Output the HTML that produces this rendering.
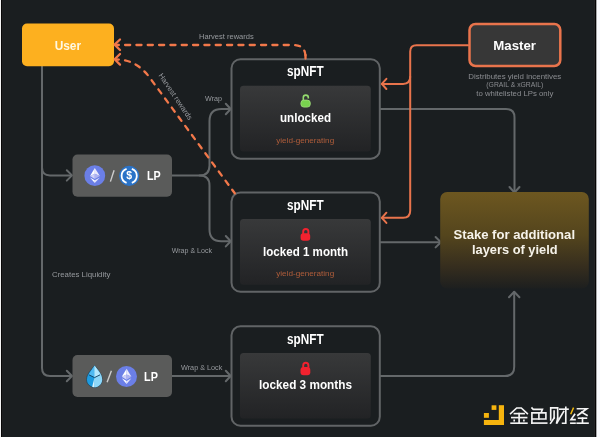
<!DOCTYPE html>
<html><head><meta charset="utf-8">
<style>
html,body{margin:0;padding:0;background:#1a1e20;}
body{width:600px;height:437px;overflow:hidden;position:relative;font-family:"Liberation Sans",sans-serif;}
svg{position:absolute;left:0;top:0;display:block;will-change:transform;}
text{font-family:"Liberation Sans",sans-serif;}
</style></head><body>
<svg width="600" height="437" viewBox="0 0 600 437">
<defs>
 <linearGradient id="inner" x1="0" y1="0" x2="0" y2="1">
   <stop offset="0" stop-color="#38393a"/>
   <stop offset="1" stop-color="#222325"/>
 </linearGradient>
 <linearGradient id="stake" x1="0" y1="0" x2="0" y2="1">
   <stop offset="0" stop-color="#6d5720"/>
   <stop offset="0.45" stop-color="#54451d"/>
   <stop offset="0.78" stop-color="#352d1e"/>
   <stop offset="1" stop-color="#1d1f1f"/>
 </linearGradient>
</defs>
<rect width="600" height="437" fill="#1a1e20"/>

<!-- gray connector lines -->
<g fill="none" stroke="#64686a" stroke-width="2" stroke-linecap="round" stroke-linejoin="round">
  <!-- user trunk -->
  <path d="M42,66 V368 Q42,376 50,376 H71"/>
  <path d="M42,167.5 Q42,175.4 50,175.4 H71"/>
  <path d="M66.8,170.2 L72,175.4 L66.8,180.6"/>
  <path d="M66.8,370.8 L72,376 L66.8,381.2"/>
  <!-- LP1 split -->
  <path d="M172,175.5 H199.5 Q209.5,175.5 209.5,165.5 V121 Q209.5,109 221.5,109 H230"/>
  <path d="M199.5,175.5 Q209.5,175.5 209.5,185.5 V229.5 Q209.5,241.2 221.2,241.2 H230"/>
  <path d="M225.8,103.8 L230.7,109 L225.8,114.2"/>
  <path d="M225.8,236 L230.7,241.2 L225.8,246.4"/>
  <!-- LP2 to spNFT3 -->
  <path d="M172,376 H230"/>
  <path d="M225.8,370.8 L230.7,376 L225.8,381.2"/>
  <!-- spNFT1 -> stake top -->
  <path d="M380,109 H506 Q514.5,109 514.5,117.5 V192"/>
  <path d="M509.5,187 L514.5,192.5 L519.5,187"/>
  <!-- spNFT2 -> stake left -->
  <path d="M380,242.2 H440.5"/>
  <path d="M435.6,237 L440.9,242.2 L435.6,247.4"/>
  <!-- spNFT3 -> stake bottom -->
  <path d="M380,376 H505 Q514.2,376 514.2,366.8 V292"/>
  <path d="M509,297.2 L514.2,291.7 L519.4,297.2"/>
</g>

<!-- Boxes -->
<rect x="22" y="23.5" width="92" height="42.8" rx="5" fill="#fdb01f"/>
<text x="67.9" y="49.6" font-size="13" font-weight="bold" fill="#fff8e2" text-anchor="middle" textLength="26.5" lengthAdjust="spacingAndGlyphs">User</text>

<rect x="469.5" y="24" width="90.8" height="42" rx="6" fill="#373737" stroke="#e9744c" stroke-width="2.5"/>
<text x="514.6" y="50" font-size="13" font-weight="bold" fill="#fff" text-anchor="middle" textLength="42.7" lengthAdjust="spacingAndGlyphs">Master</text>
<g font-size="7.8" fill="#8b8d91" text-anchor="middle">
  <text x="514.8" y="79.2" textLength="93" lengthAdjust="spacingAndGlyphs">Distributes yield incentives</text>
  <text x="514.8" y="87.4" textLength="57" lengthAdjust="spacingAndGlyphs">(GRAIL &amp; xGRAIL)</text>
  <text x="514.8" y="95.5" textLength="77" lengthAdjust="spacingAndGlyphs">to whitelisted LPs only</text>
</g>

<!-- spNFT boxes -->
<g fill="none" stroke="#616466" stroke-width="2">
  <rect x="231.5" y="59.2" width="148.3" height="99.5" rx="9"/>
  <rect x="231.5" y="192.4" width="148.3" height="99.4" rx="9"/>
  <rect x="231.5" y="326.3" width="148.3" height="99.5" rx="9"/>
</g>
<g fill="url(#inner)">
  <rect x="240" y="85.8" width="130.8" height="65.7" rx="3.5"/>
  <rect x="240" y="219" width="130.8" height="65.7" rx="3.5"/>
  <rect x="240" y="352.9" width="130.8" height="65.7" rx="3.5"/>
</g>
<g font-size="13" font-weight="bold" fill="#fff" text-anchor="middle">
  <text x="305.3" y="76.1" font-size="13.8" textLength="36.5" lengthAdjust="spacingAndGlyphs">spNFT</text>
  <text x="305.3" y="209.9" font-size="13.8" textLength="36.5" lengthAdjust="spacingAndGlyphs">spNFT</text>
  <text x="305.3" y="344" font-size="13.8" textLength="36.5" lengthAdjust="spacingAndGlyphs">spNFT</text>
  <text x="305.5" y="122.1" textLength="51" lengthAdjust="spacingAndGlyphs">unlocked</text>
  <text x="305.5" y="255.5" textLength="85" lengthAdjust="spacingAndGlyphs">locked 1 month</text>
  <text x="305.5" y="389.4" textLength="93" lengthAdjust="spacingAndGlyphs">locked 3 months</text>
</g>
<g font-size="7.6" fill="#b05d3a" text-anchor="middle">
  <text x="305.2" y="143.2" textLength="58" lengthAdjust="spacingAndGlyphs">yield-generating</text>
  <text x="305.2" y="276" textLength="58" lengthAdjust="spacingAndGlyphs">yield-generating</text>
</g>

<!-- locks -->
<g>
  <path d="M303.3,100.5 V97.6 A2.5,2.5 0 0 1 308.3,97.6 V98.4" fill="none" stroke="#94db6e" stroke-width="1.6"/>
  <rect x="300.9" y="100.1" width="9.4" height="7" rx="3" fill="#78d24e" stroke="#a2e07e" stroke-width="0.8"/>
  <path d="M303.2,234 V231.6 A2.6,2.6 0 0 1 308.4,231.6 V234" fill="none" stroke="#f2222f" stroke-width="1.9"/>
  <rect x="300.6" y="233.2" width="9.6" height="7.6" rx="2.8" fill="#f2222f"/>
  <path d="M303.2,367.8 V365.4 A2.6,2.6 0 0 1 308.4,365.4 V367.8" fill="none" stroke="#f2222f" stroke-width="1.9"/>
  <rect x="300.5" y="367" width="9.8" height="8.2" rx="3" fill="#f2222f"/>
</g>

<!-- LP boxes -->
<rect x="72.5" y="154.5" width="99.5" height="42.2" rx="5" fill="#5a5b5a"/>
<rect x="72.5" y="355" width="99.5" height="42" rx="5" fill="#5a5b5a"/>

<!-- LP1 icons -->
<circle cx="94.8" cy="175.7" r="10.4" fill="#6b7fe7"/>
<path d="M94.8,168.1 L90,176 L94.8,173.8 Z" fill="#ffffff"/>
<path d="M94.8,168.1 L99.9,176 L94.8,173.8 Z" fill="#e9e9fc"/>
<path d="M90,176 L94.8,173.8 L94.8,179 Z" fill="#cfd1f7"/>
<path d="M99.9,176 L94.8,173.8 L94.8,179 Z" fill="#aeb3f1"/>
<path d="M90,177.4 L94.8,180.3 L94.8,183 Z" fill="#ffffff"/>
<path d="M99.9,177.4 L94.8,180.3 L94.8,183 Z" fill="#e3e5fb"/>
<path d="M114.1,170.3 L110.4,181.6" stroke="#cdcdcd" stroke-width="1.4"/>
<circle cx="129.2" cy="175.8" r="10.1" fill="#2a73c8"/>
<path d="M126.6,168.8 A7.4,7.4 0 0 0 126.6,182.8 M131.8,168.8 A7.4,7.4 0 0 1 131.8,182.8" fill="none" stroke="#fff" stroke-width="1.8"/>
<text x="129.2" y="179.4" font-size="10.5" font-weight="bold" fill="#fff" text-anchor="middle">$</text>
<text x="147" y="180.4" font-size="13" font-weight="bold" fill="#fff" textLength="13.7" lengthAdjust="spacingAndGlyphs">LP</text>

<!-- LP2 icons -->
<path d="M94.5,365.5 C98,370 102.2,374.5 102.2,379.5 C102.2,384 98.6,387.3 94.4,387.3 C90.2,387.3 86.5,384 86.5,379.5 C86.5,374.5 91,370 94.5,365.5 Z" fill="#1d9be0" stroke="#203644" stroke-width="0.6"/>
<path d="M94.5,365.5 C98,370 102.2,374.5 102.2,379.5 C102.2,384 98.6,387.3 94.4,387.3 L94.5,377.4 Z" fill="#8ed7f8"/>
<path d="M94.5,377.4 L94.4,387.3 C93,387.3 92.5,387 92.2,386.8 Z" fill="#d8f3fd"/>
<path d="M94.5,365.5 L88.7,374.6 L94.5,377.4 Z" fill="#4fb9f1"/>
<path d="M94.5,365.5 L100.3,374.6 L94.5,377.4 Z" fill="#b5e7fc"/>
<path d="M88.9,374.8 L94.5,377.6 L100.1,374.8" fill="none" stroke="#0e3c5c" stroke-width="0.9"/>
<path d="M111.4,370.8 L107.1,382.2" stroke="#cdcdcd" stroke-width="1.4"/>
<circle cx="126.5" cy="376.5" r="10.5" fill="#6b7fe7"/>
<path d="M126.6,368.8 L121.8,376.8 L126.6,374.6 Z" fill="#ffffff"/>
<path d="M126.6,368.8 L131.4,376.8 L126.6,374.6 Z" fill="#e9e9fc"/>
<path d="M121.8,376.8 L126.6,374.6 L126.6,379.8 Z" fill="#cfd1f7"/>
<path d="M131.4,376.8 L126.6,374.6 L126.6,379.8 Z" fill="#aeb3f1"/>
<path d="M121.8,378.2 L126.6,381.1 L126.6,383.9 Z" fill="#ffffff"/>
<path d="M131.4,378.2 L126.6,381.1 L126.6,383.9 Z" fill="#e3e5fb"/>
<text x="144.1" y="380.6" font-size="13" font-weight="bold" fill="#fff" textLength="13.8" lengthAdjust="spacingAndGlyphs">LP</text>

<!-- stake box -->
<rect x="440.2" y="192" width="148.6" height="96.5" rx="7" fill="url(#stake)"/>
<g font-size="12.6" font-weight="bold" fill="#f6f3ea" text-anchor="middle">
  <text x="514.3" y="238.8" textLength="121.5" lengthAdjust="spacingAndGlyphs">Stake for additional</text>
  <text x="514.8" y="253.8" textLength="85.5" lengthAdjust="spacingAndGlyphs">layers of yield</text>
</g>

<!-- labels -->
<g font-size="7.5" fill="#979a9e">
  <text x="199" y="39" textLength="54.7" lengthAdjust="spacingAndGlyphs">Harvest rewards</text>
  <text x="205" y="101.3" textLength="17" lengthAdjust="spacingAndGlyphs">Wrap</text>
  <text x="171.7" y="253.4" textLength="40.3" lengthAdjust="spacingAndGlyphs">Wrap &amp; Lock</text>
  <text x="181" y="370.4" textLength="41.3" lengthAdjust="spacingAndGlyphs">Wrap &amp; Lock</text>
  <text x="52" y="277" font-size="7.8" textLength="58.3" lengthAdjust="spacingAndGlyphs">Creates Liquidity</text>
  <text transform="translate(175.6,96.6) rotate(56)" x="0" y="2.6" text-anchor="middle" textLength="54.5" lengthAdjust="spacingAndGlyphs">Harvest rewards</text>
</g>

<!-- orange solid master lines -->
<g fill="none" stroke="#e9744c" stroke-width="2" stroke-linecap="round" stroke-linejoin="round">
  <path d="M468,45.3 H416.5 Q410.2,45.3 410.2,51.6 V210.7 Q410.2,217.8 403.1,217.8 H382"/>
  <path d="M410.2,76.8 Q410.2,83.9 403.1,83.9 H382"/>
  <path d="M386.4,78.8 L381.8,83.9 L386.4,89"/>
  <path d="M386.4,212.7 L381.8,217.8 L386.4,222.9"/>
</g>

<!-- orange dashed harvest lines -->
<g fill="none" stroke="#f2784a" stroke-width="2.3" stroke-linecap="round">
  <path d="M117,45 H293.5 Q305.5,45 305.5,57 V59.6" stroke-dasharray="5.1 6.23" stroke-dashoffset="3.25"/>
  <path d="M117,59.5 Q136.4,59.5 150,78 L234.8,193.3" stroke-dasharray="5.1 6.23" stroke-dashoffset="3.3"/>
  <path d="M305.5,55 V58.6"/>
  <path d="M120,39.5 L114.6,44.7 L120,50" stroke-dasharray="none" stroke-linejoin="round"/>
  <path d="M120,54 L114.6,59.3 L120,64.6" stroke-dasharray="none" stroke-linejoin="round"/>
</g>

<!-- watermark logo -->
<g fill="#f6b40e">
  <rect x="491.6" y="405.3" width="4.8" height="4.6"/>
  <rect x="498.8" y="405.2" width="5.2" height="19.8"/>
  <rect x="483.9" y="420" width="20.1" height="5"/>
  <rect x="483.9" y="413" width="5" height="4.8"/>
</g>

<!-- watermark text 金色财经 -->
<g fill="none" stroke="#f4f4f4" stroke-width="1.65" stroke-linecap="square" stroke-linejoin="miter">
  <!-- 金 -->
  <path d="M510.6,413.6 L516.7,408 H521.3 L527.3,413.6"/>
  <path d="M514.4,413.6 H524.1"/>
  <path d="M511.8,417.6 H526.6"/>
  <path d="M519.1,413.6 V423.1"/>
  <path d="M514.2,420.3 V420.7 M523.9,420.3 V420.7"/>
  <path d="M511.1,423.2 H526.9"/>
  <!-- 色 -->
  <path d="M532,408 L533.2,409.4 H542.4 L541.6,411.4"/>
  <path d="M531.9,423.1 V412.8 H545.9 V419 H531.9"/>
  <path d="M538.9,412.8 V419"/>
  <path d="M531.9,423.1 H546.7"/>
  <!-- 财 -->
  <path d="M550.7,419.8 V407.9 H557.7 V418.2"/>
  <path d="M554.1,411 V418"/>
  <path d="M554.1,418 L550.6,423.2"/>
  <path d="M557.7,418.2 L556.6,423"/>
  <path d="M559.8,409.2 H568"/>
  <path d="M565.8,407.3 V423.2 H562.6"/>
  <path d="M563.6,411.6 L557.1,422.6"/>
  <!-- 经 -->
  <path d="M574.6,414.5 L571,419.6 H575"/>
  <path d="M570.9,423.2 H575"/>
  <path d="M577.5,408.7 H586.8 L577.8,415.3"/>
  <path d="M581.8,412.2 L587,415.3"/>
  <path d="M578.6,418.2 H586.4"/>
  <path d="M582.5,418.2 V423.2"/>
  <path d="M577.2,423.2 H588"/>
</g>
<path d="M573.3,408.3 L571,413.6" stroke="#f2b90c" stroke-width="1.5" stroke-linecap="square"/>

<!-- edges -->
<rect x="0" y="0" width="1" height="437" fill="#f4f4f4"/>
<rect x="1" y="0" width="1" height="437" fill="#080808"/>
<rect x="2" y="0" width="1" height="437" fill="#1e1f21"/>
<rect x="594" y="0" width="1" height="437" fill="#222325"/>
<rect x="595" y="0" width="1" height="437" fill="#040404"/>
<rect x="596" y="0" width="1" height="437" fill="#a8a9ab"/>
<rect x="597" y="0" width="3" height="437" fill="#f9fafc"/>
</svg>
</body></html>
